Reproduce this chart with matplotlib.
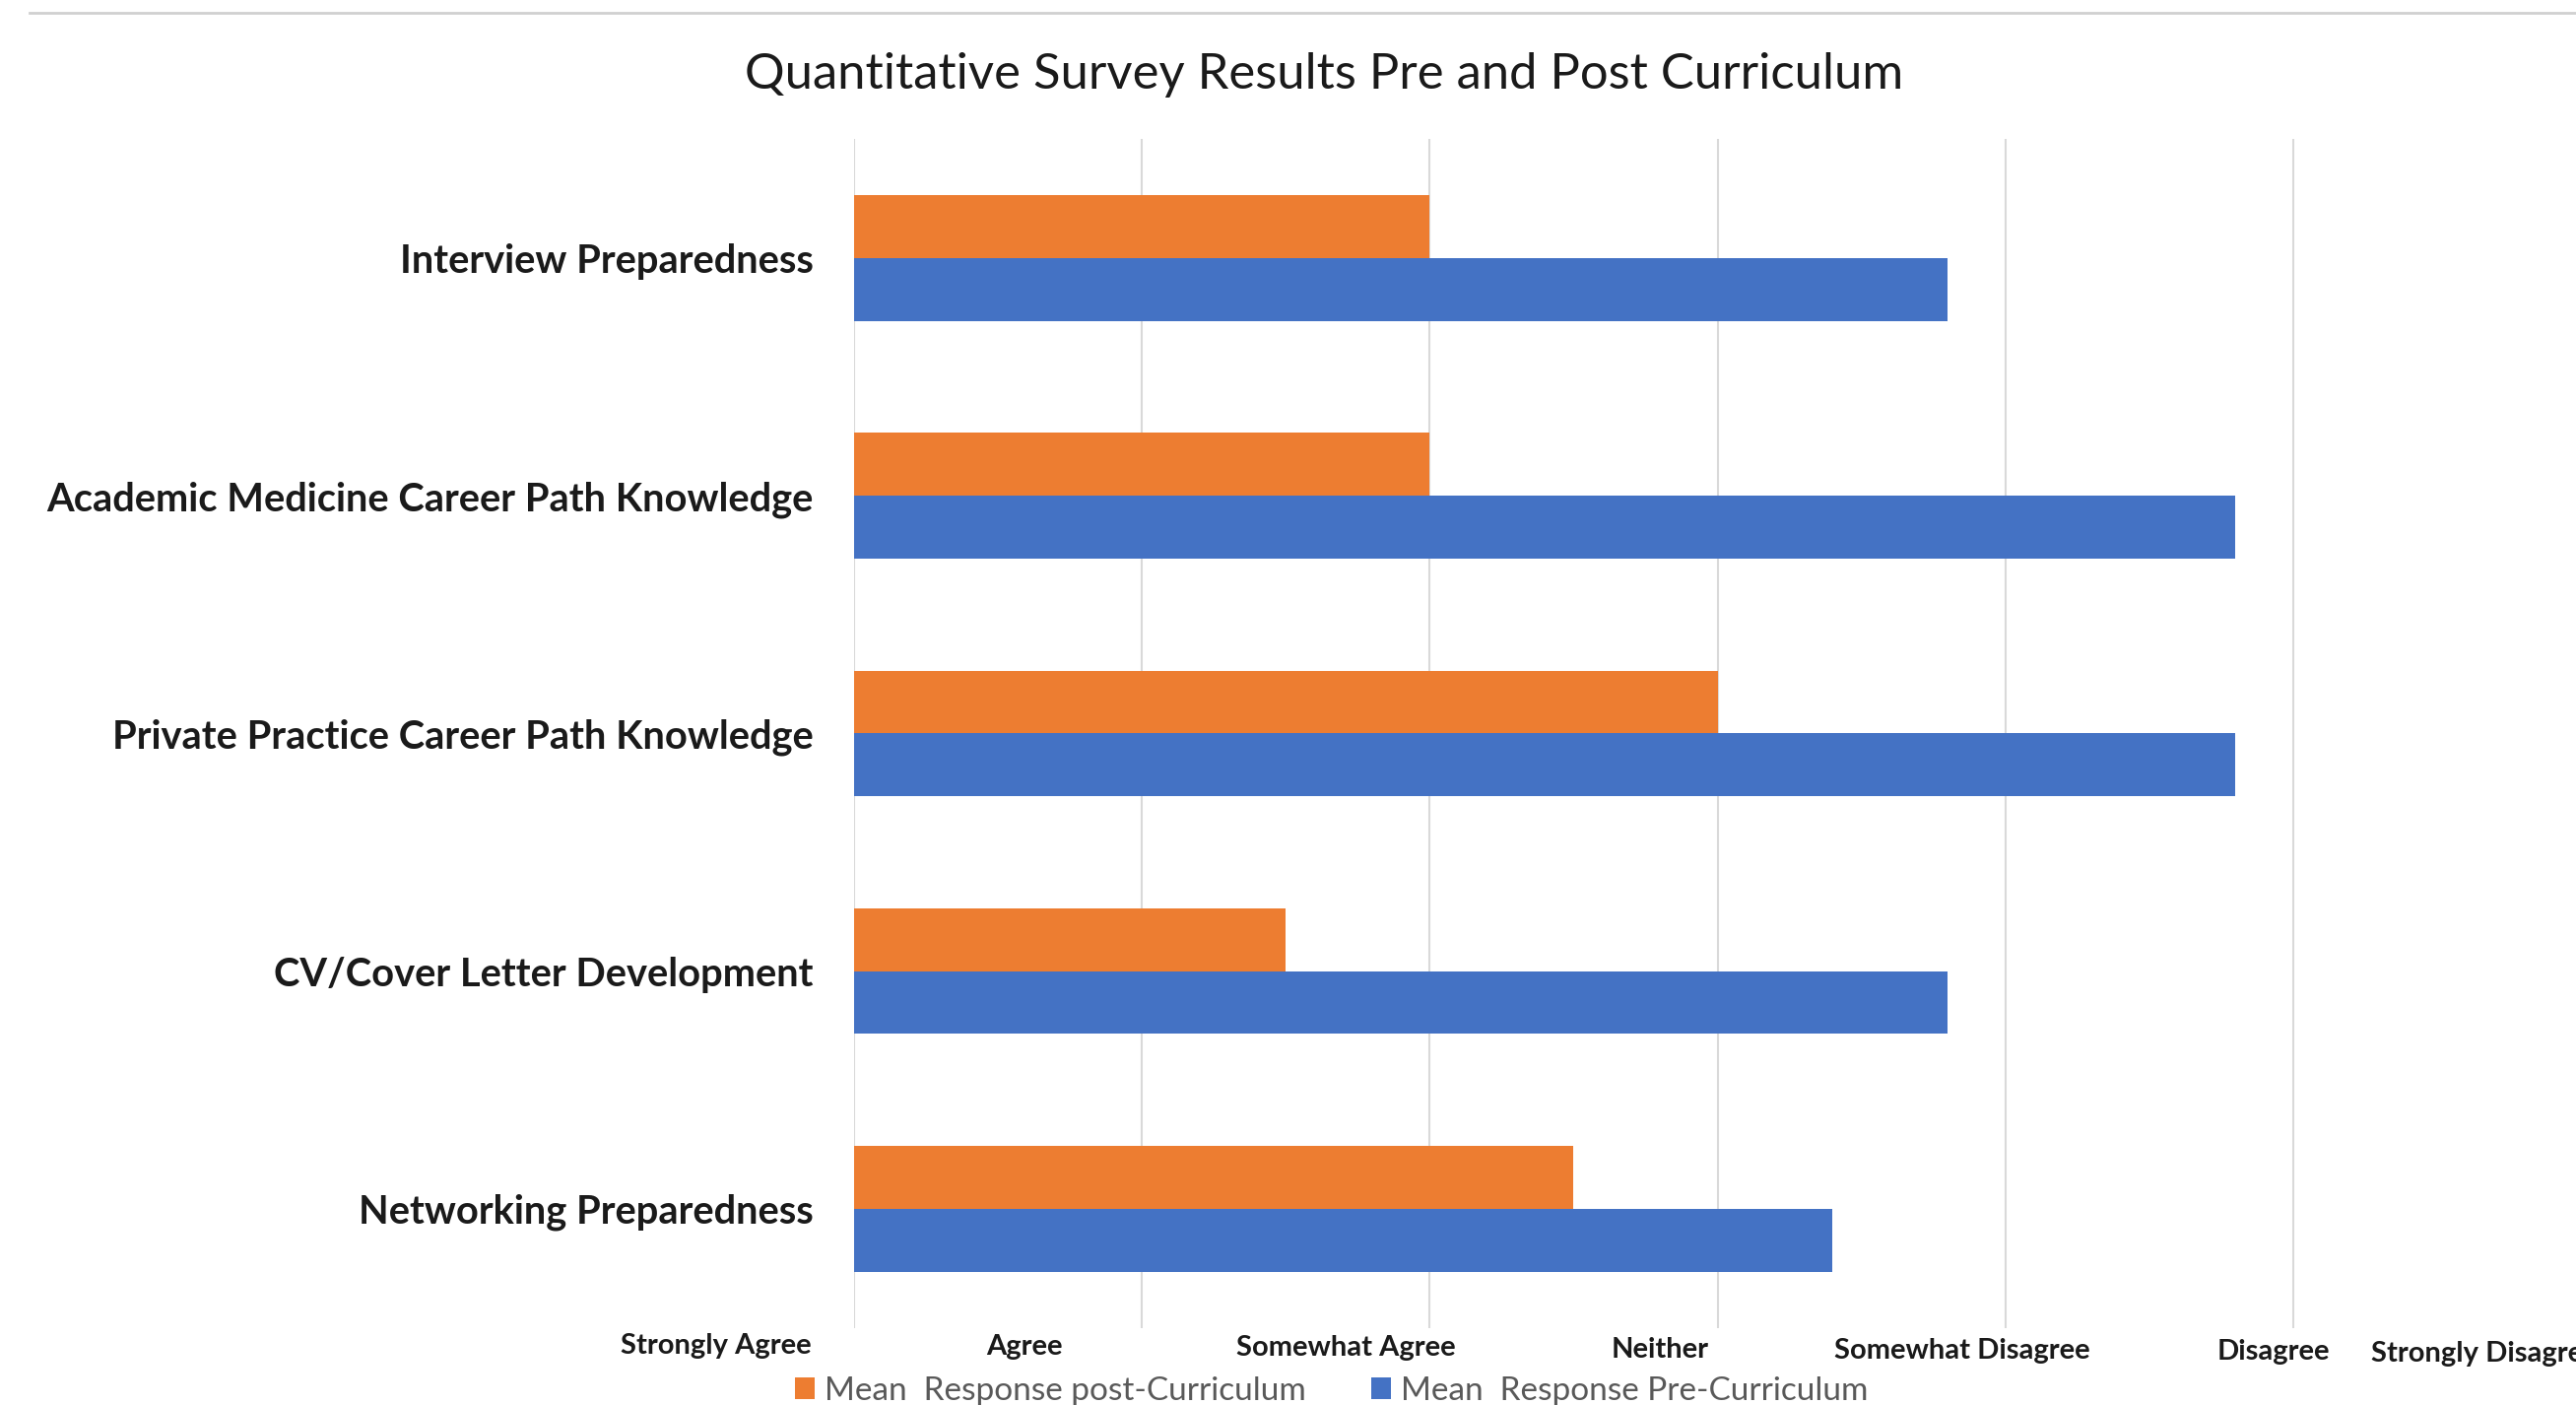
import matplotlib.pyplot as plt
from matplotlib.lines import Line2D
import numpy as np

plt.rcParams['font.family'] = ['Lato', 'DejaVu Sans']

# survey scale: 1 = Strongly Agree ... 7 = Strongly Disagree
categories = ['Interview Preparedness', 'Academic Medicine Career Path Knowledge',
              'Private Practice Career Path Knowledge', 'CV/Cover Letter Development',
              'Networking Preparedness']
post_curriculum = [3.0, 3.0, 4.0, 2.5, 3.5]
pre_curriculum = [4.8, 5.8, 5.8, 4.8, 4.4]
scale_labels = ['Strongly Agree', 'Agree', 'Somewhat Agree', 'Neither',
                'Somewhat Disagree', 'Disagree', 'Strongly Disagree']
# where the (hand placed) scale labels sit along the axis
scale_label_x = [0.52, 1.59, 2.71, 3.80, 4.85, 5.93, 6.27]

orange = '#ED7D31'
blue = '#4472C4'

fig = plt.figure(figsize=(26.15, 14.26), dpi=100)
ax = fig.add_axes([0.3316, 0.055, 0.6703, 0.846])

y = np.arange(len(categories))[::-1]
h = 0.264
ax.barh(y + h / 2, np.array(post_curriculum) - 1, left=1, height=h, color=orange,
        label='Mean  Response post-Curriculum')
ax.barh(y - h / 2, np.array(pre_curriculum) - 1, left=1, height=h, color=blue,
        label='Mean  Response Pre-Curriculum')

ax.set_xlim(1, 7)
ax.set_ylim(-0.5, 4.5)
ax.set_xticks(range(1, 7))
ax.set_xticklabels([])
ax.tick_params(axis='both', length=0)
ax.xaxis.grid(True, color='#D9D9D9', linewidth=1.5)
ax.set_axisbelow(True)
for s in ax.spines.values():
    s.set_visible(False)

ax.set_yticks(y)
ax.set_yticklabels(categories, fontsize=28.7, fontweight='bold', color='#1a1a1a')
ax.tick_params(axis='y', pad=30)

# scale labels below the axis, slightly sloping like the original
for i, (lab, xv) in enumerate(zip(scale_labels, scale_label_x)):
    ax.text(xv, -0.575 - i * 0.0055, lab, ha='left' if i == 6 else 'center', va='center',
            fontsize=21, fontweight='bold', color='#1a1a1a', clip_on=False)

fig.suptitle('Quantitative Survey Results Pre and Post Curriculum', x=0.514, y=0.963,
             fontsize=36.5, color='#1a1a1a')

handles, labels = ax.get_legend_handles_labels()
fig.legend(handles, labels, loc='center', bbox_to_anchor=(0.517, 0.01), ncol=2,
           frameon=False, fontsize=24, labelcolor='#595959', handlelength=0.6,
           handleheight=0.6, handletextpad=0.3, columnspacing=2.0)

fig.add_artist(Line2D([0.0115, 1.0], [0.991, 0.991], color='#D0D0D0', linewidth=2))

plt.savefig('out.png', dpi=100)
